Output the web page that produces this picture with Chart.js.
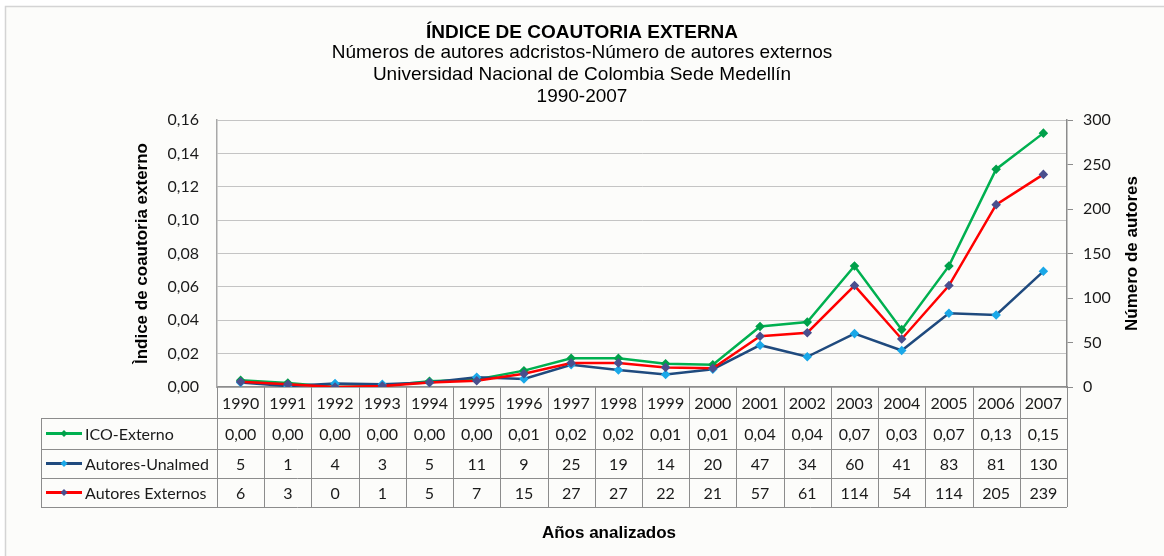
<!DOCTYPE html>
<html>
<head>
<meta charset="utf-8">
<script src="https://cdn.jsdelivr.net/npm/chart.js@4.4.1/dist/chart.umd.min.js"></script>
<style>
  html, body { margin: 0; padding: 0; background: #ffffff; }
</style>
</head>
<body>
<canvas id="grafico" width="1164" height="556"></canvas>
<script>
// Datos
const anios = ["1990","1991","1992","1993","1994","1995","1996","1997","1998","1999","2000","2001","2002","2003","2004","2005","2006","2007"];
const icoExterno = [0.0040, 0.0024, 0.0000, 0.0006, 0.0035, 0.0045, 0.0098, 0.0172, 0.0172, 0.0140, 0.0134, 0.0363, 0.0389, 0.0726, 0.0344, 0.0726, 0.1306, 0.1522];
const autoresUnalmed = [5, 1, 4, 3, 5, 11, 9, 25, 19, 14, 20, 47, 34, 60, 41, 83, 81, 130];
const autoresExternos = [6, 3, 0, 1, 5, 7, 15, 27, 27, 22, 21, 57, 61, 114, 54, 114, 205, 239];
const nombresSeries = ["ICO-Externo", "Autores-Unalmed", "Autores Externos"];
const ticksIzq = { min: 0, max: 0.16, paso: 0.02 };
const ticksDer = { min: 0, max: 300, paso: 50 };

const colorLinea = ["#00b050", "#1f4a7e", "#ff0000"];
const colorPunto = ["#00a04a", "#1aa8e8", "#4a4f8e"];

const fuenteTabla = "16px Lato";
const fuenteTitulo = "bold 17px 'Liberation Sans'";

function coma(v, dec) {
    return v.toFixed(dec).replace(".", ",");
}

// Tabla de datos debajo del grafico + titulos de ejes
const tablaDatos = {
    id: "tablaDatos",
    beforeDraw(chart) {
        const ctx = chart.ctx;
        ctx.save();
        ctx.fillStyle = "#fcfcfa";
        ctx.fillRect(5, 7, chart.width - 5, chart.height - 7);
        ctx.strokeStyle = "#d4d4d4";
        ctx.lineWidth = 1.5;
        ctx.beginPath();
        ctx.moveTo(5.5, chart.height);
        ctx.lineTo(5.5, 6.5);
        ctx.lineTo(chart.width, 6.5);
        ctx.stroke();
        ctx.restore();
    },
    afterDraw(chart) {
        const ctx = chart.ctx;
        const x = chart.scales.x;
        const area = chart.chartArea;
        const filas = [area.bottom, area.bottom + 31, area.bottom + 62, area.bottom + 91, area.bottom + 120];
        const izqTabla = 41;

        const bordes = [area.left];
        for (let i = 0; i < anios.length - 1; i++) {
            bordes.push((x.getPixelForValue(i) + x.getPixelForValue(i + 1)) / 2);
        }
        bordes.push(area.right);

        ctx.save();
        ctx.strokeStyle = "#8c8c8c";
        ctx.lineWidth = 1;
        ctx.beginPath();
        // lineas horizontales
        ctx.moveTo(area.left, Math.round(filas[1]) + 0.5);
        ctx.lineTo(area.right, Math.round(filas[1]) + 0.5);
        for (let r = 1; r < filas.length; r++) {
            ctx.moveTo(izqTabla, Math.round(filas[r]) + 0.5);
            ctx.lineTo(area.right, Math.round(filas[r]) + 0.5);
        }
        // lineas verticales
        for (const b of bordes) {
            ctx.moveTo(Math.round(b) + 0.5, filas[0]);
            ctx.lineTo(Math.round(b) + 0.5, filas[4]);
        }
        ctx.moveTo(izqTabla + 0.5, filas[1]);
        ctx.lineTo(izqTabla + 0.5, filas[4]);
        ctx.stroke();

        // valores
        const valores = [
            icoExterno.map(v => coma(v, 2)),
            autoresUnalmed.map(v => String(v)),
            autoresExternos.map(v => String(v))
        ];
        ctx.font = fuenteTabla;
        ctx.fillStyle = "#1a1a1a";
        ctx.textAlign = "center";
        ctx.textBaseline = "middle";
        for (let s = 0; s < 3; s++) {
            const yc = (filas[s + 1] + filas[s + 2]) / 2 + 1;
            for (let i = 0; i < anios.length; i++) {
                ctx.fillText(valores[s][i], x.getPixelForValue(i), yc);
            }
        }

        // leyenda en la tabla
        for (let s = 0; s < 3; s++) {
            const yc = (filas[s + 1] + filas[s + 2]) / 2;
            ctx.strokeStyle = colorLinea[s];
            ctx.lineWidth = 3;
            ctx.beginPath();
            ctx.moveTo(46, yc);
            ctx.lineTo(82, yc);
            ctx.stroke();
            ctx.fillStyle = colorPunto[s];
            ctx.beginPath();
            ctx.moveTo(64, yc - 3.5);
            ctx.lineTo(67.5, yc);
            ctx.lineTo(64, yc + 3.5);
            ctx.lineTo(60.5, yc);
            ctx.closePath();
            ctx.fill();
            ctx.fillStyle = "#1a1a1a";
            ctx.textAlign = "left";
            ctx.fillText(nombresSeries[s], 85, yc + 1);
        }

        // titulos de ejes
        ctx.font = fuenteTitulo;
        ctx.fillStyle = "#000000";
        ctx.textAlign = "center";
        ctx.textBaseline = "middle";
        ctx.fillText("Años analizados", 609, 533);

        ctx.save();
        ctx.translate(142, (area.top + area.bottom) / 2);
        ctx.rotate(-Math.PI / 2);
        ctx.fillText("Ìndice de coautoria externo", 0, 0);
        ctx.restore();

        ctx.save();
        ctx.translate(1132, (area.top + area.bottom) / 2);
        ctx.rotate(-Math.PI / 2);
        ctx.fillText("Número de autores", 0, 0);
        ctx.restore();

        ctx.restore();
    }
};

const ctx = document.getElementById("grafico").getContext("2d");

new Chart(ctx, {
    type: "line",
    data: {
        labels: anios,
        datasets: [
            {
                label: nombresSeries[0],
                data: icoExterno,
                yAxisID: "y",
                borderColor: colorLinea[0],
                backgroundColor: colorPunto[0],
                pointBackgroundColor: colorPunto[0],
                pointBorderColor: colorPunto[0],
                borderWidth: 2.5,
                pointStyle: "rectRot",
                pointRadius: 3,
                tension: 0,
                order: 2
            },
            {
                label: nombresSeries[1],
                data: autoresUnalmed,
                yAxisID: "y2",
                borderColor: colorLinea[1],
                backgroundColor: colorPunto[1],
                pointBackgroundColor: colorPunto[1],
                pointBorderColor: colorPunto[1],
                borderWidth: 2.5,
                pointStyle: "rectRot",
                pointRadius: 3,
                tension: 0,
                order: 1
            },
            {
                label: nombresSeries[2],
                data: autoresExternos,
                yAxisID: "y2",
                borderColor: colorLinea[2],
                backgroundColor: colorPunto[2],
                pointBackgroundColor: colorPunto[2],
                pointBorderColor: colorPunto[2],
                borderWidth: 2.5,
                pointStyle: "rectRot",
                pointRadius: 3,
                tension: 0,
                order: 0
            }
        ]
    },
    options: {
        responsive: false,
        animation: false,
        layout: { padding: 0 },
        plugins: {
            legend: { display: false },
            tooltip: { enabled: false },
            title: {
                display: true,
                text: "ÍNDICE DE COAUTORIA EXTERNA",
                color: "#000000",
                font: { family: "'Liberation Sans'", size: 19, weight: "bold", lineHeight: 1 },
                padding: { top: 23, bottom: 0 }
            },
            subtitle: {
                display: true,
                text: ["Números de autores adcristos-Número de autores externos",
                       "Universidad Nacional de Colombia Sede Medellín",
                       "1990-2007"],
                color: "#000000",
                font: { family: "'Liberation Sans'", size: 19, weight: "normal", lineHeight: 1.16 },
                padding: { top: 0, bottom: 12 }
            }
        },
        scales: {
            x: {
                type: "category",
                offset: true,
                grid: { display: false, drawTicks: false },
                border: { display: true, color: "#8c8c8c", width: 1.5 },
                ticks: { font: { family: "Lato", size: 16 }, color: "#1a1a1a", padding: 7, maxRotation: 0, autoSkip: false },
                afterFit(scale) { scale.height = 169; }
            },
            y: {
                position: "left",
                min: ticksIzq.min,
                max: ticksIzq.max,
                grid: { color: "#c4c4c4", lineWidth: 1, drawTicks: false },
                border: { color: "#a8a8a8", width: 1.5 },
                ticks: {
                    stepSize: ticksIzq.paso,
                    padding: 18,
                    color: "#1a1a1a",
                    font: { family: "Lato", size: 16 },
                    callback: v => coma(v, 2)
                },
                afterFit(scale) { scale.width = 217; }
            },
            y2: {
                position: "right",
                min: ticksDer.min,
                max: ticksDer.max,
                grid: { drawOnChartArea: false, drawTicks: true, tickLength: 6, color: "#8c8c8c", tickColor: "#8c8c8c" },
                border: { color: "#8c8c8c", width: 1.5 },
                ticks: {
                    stepSize: ticksDer.paso,
                    padding: 10,
                    color: "#1a1a1a",
                    font: { family: "Lato", size: 16 }
                },
                afterFit(scale) { scale.width = 97; }
            }
        }
    },
    plugins: [tablaDatos]
});
</script>
</body>
</html>
